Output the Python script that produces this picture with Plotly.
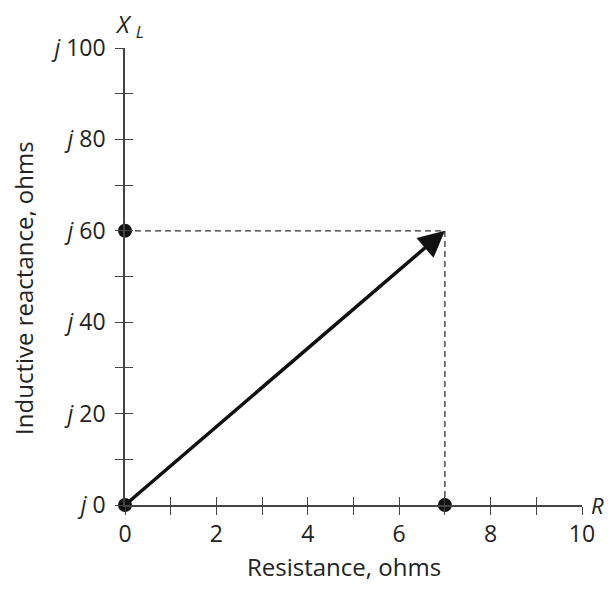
import plotly.graph_objects as go

# data
resistance = 7
reactance = 60
x_ticks = list(range(0, 11))
x_labels = [str(v) if v % 2 == 0 else "" for v in x_ticks]
y_ticks = list(range(0, 101, 10))
y_labels = [f"<i>j</i> {v}" if v % 20 == 0 else "" for v in y_ticks]

FONT = "Open Sans"
ink = "#222222"
axc = "#444444"

fig = go.Figure()

# dashed projection lines
fig.add_trace(go.Scatter(x=[0, resistance, resistance], y=[reactance, reactance, 0],
                         mode="lines", line=dict(color="#333333", width=1.3, dash="6px,4px"),
                         hoverinfo="skip", cliponaxis=False))
# dots
fig.add_trace(go.Scatter(x=[0, 0, resistance], y=[0, reactance, 0], mode="markers",
                         marker=dict(color="#111111", size=14), cliponaxis=False,
                         hoverinfo="skip"))
# dummy trace for secondary axes (inside ticks)
fig.add_trace(go.Scatter(x=[0], y=[0], xaxis="x2", yaxis="y2", mode="markers",
                         marker=dict(opacity=0), hoverinfo="skip"))

# arrow vector
fig.add_annotation(x=resistance, y=reactance, ax=0, ay=0, xref="x", yref="y",
                   axref="x", ayref="y", showarrow=True, arrowhead=2, arrowsize=1.5,
                   arrowwidth=3.5, arrowcolor="#111111", text="", standoff=0)

fig.add_annotation(x=0, y=1, xref="x", yref="paper", xanchor="center", yanchor="bottom",
                   text="<i>X</i> <sub><i>L</i></sub>", showarrow=False, yshift=3, xshift=4,
                   font=dict(family=FONT, size=24, color=ink))
fig.add_annotation(x=1, y=0, xref="paper", yref="y", xanchor="left", yanchor="middle",
                   text="<i>R</i>", showarrow=False, xshift=7,
                   font=dict(family=FONT, size=22, color=ink))
# axis titles
fig.add_annotation(x=0.479, y=0, xref="paper", yref="paper", xanchor="center", yanchor="middle",
                   yshift=-61, text="Resistance, ohms", showarrow=False,
                   font=dict(family=FONT, size=24, color=ink))
fig.add_annotation(x=0, y=0.475, xref="paper", yref="paper", xanchor="center", yanchor="middle",
                   xshift=-101, text="Inductive reactance, ohms", textangle=-90, showarrow=False,
                   font=dict(family=FONT, size=24, color=ink))

common_ax = dict(showgrid=False, zeroline=False, showline=True, linecolor=axc,
                 linewidth=1.5, tickcolor=axc, tickwidth=1.3, ticklen=8, automargin=False)

fig.update_layout(
    width=608, height=574,
    margin=dict(l=117, r=34, t=40, b=77, autoexpand=False),
    plot_bgcolor="white", paper_bgcolor="white",
    showlegend=False,
    font=dict(family=FONT, size=23, color=ink),
    xaxis=dict(range=[0, 10], tickvals=x_ticks, ticktext=x_labels, ticks="outside",
               **common_ax),
    yaxis=dict(range=[0, 100], tickvals=y_ticks, ticktext=y_labels, ticks="outside",
               ticklabelstandoff=5, **common_ax),
    xaxis2=dict(range=[0, 10], tickvals=x_ticks, ticks="inside", showticklabels=False,
                overlaying="x", anchor="y2", side="bottom", **common_ax),
    yaxis2=dict(range=[0, 100], tickvals=y_ticks, ticks="inside", showticklabels=False,
                overlaying="y", anchor="x2", side="left", **common_ax),
)

fig.write_html("out.html")
